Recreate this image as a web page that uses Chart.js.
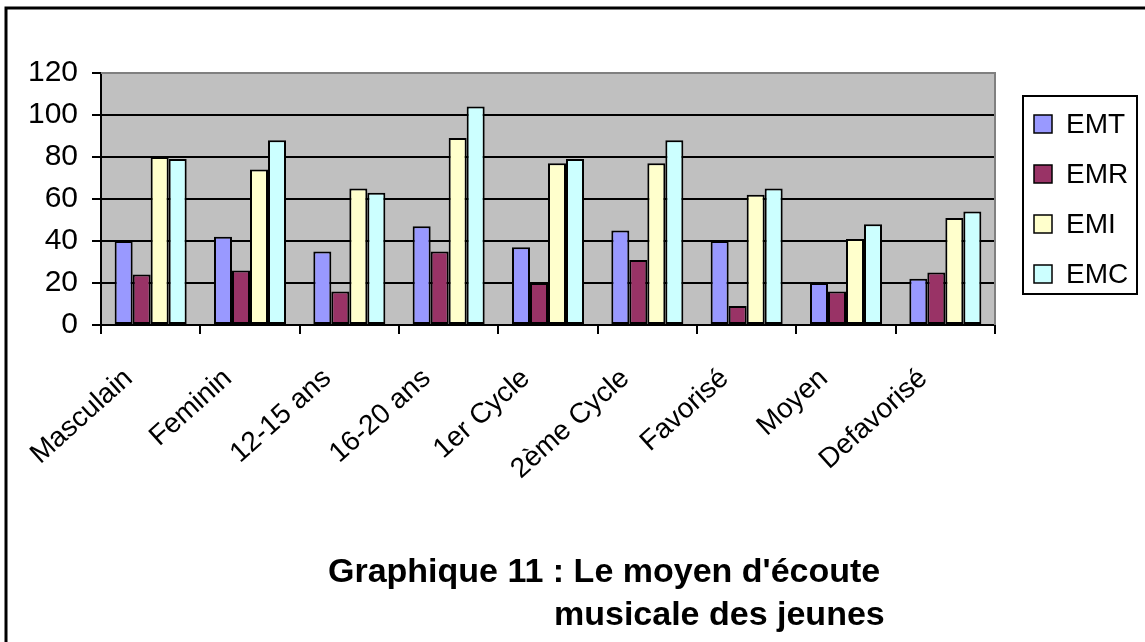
<!DOCTYPE html>
<html>
<head>
<meta charset="utf-8">
<script src="https://cdn.jsdelivr.net/npm/chart.js@4/dist/chart.umd.min.js"></script>
<style>
  body { margin: 0; background: #fff; }
  #wrap { width: 1145px; height: 642px; position: relative; }
</style>
</head>
<body>
<div id="wrap"><canvas id="myChart" width="1145" height="642"></canvas></div>
<script>
// categories and series
const categories = ['Masculain', 'Feminin', '12-15 ans', '16-20 ans', '1er Cycle', '2ème Cycle', 'Favorisé', 'Moyen', 'Defavorisé'];
const emt = [40, 42, 35, 47, 37, 45, 40, 20, 22];
const emr = [24, 26, 16, 35, 20, 31, 9, 16, 25];
const emi = [80, 74, 65, 89, 77, 77, 62, 41, 51];
const emc = [79, 88, 63, 104, 79, 88, 65, 48, 54];
const seriesNames = ['EMT', 'EMR', 'EMI', 'EMC'];
const seriesColors = ['#9999FF', '#993366', '#FFFFCC', '#CCFFFF'];
const yTicks = [0, 20, 40, 60, 80, 100, 120];
const titleLines = ["Graphique 11 : Le moyen d'écoute", 'musicale des jeunes'];

const FONT = "'Liberation Sans', Arial, sans-serif";

// grey plot background + top/right border
const plotBack = {
  id: 'plotBack',
  beforeDraw(chart) {
    const { ctx, chartArea: a } = chart;
    ctx.save();
    ctx.fillStyle = '#fff';
    ctx.fillRect(0, 0, chart.width, chart.height);
    ctx.fillStyle = '#C0C0C0';
    ctx.fillRect(a.left, a.top, a.right - a.left, a.bottom - a.top);
    ctx.restore();
  },
  afterDraw(chart) {
    const { ctx, chartArea: a } = chart;
    ctx.save();
    ctx.strokeStyle = '#808080';
    ctx.lineWidth = 2;
    ctx.beginPath();
    ctx.moveTo(a.left, a.top);
    ctx.lineTo(a.right, a.top);
    ctx.lineTo(a.right, a.bottom);
    ctx.stroke();
    // outer frame (only top and left edges fall inside the picture)
    ctx.strokeStyle = '#000';
    ctx.lineWidth = 3;
    ctx.beginPath();
    ctx.moveTo(6, 650);
    ctx.lineTo(6, 8);
    ctx.lineTo(1150, 8);
    ctx.stroke();
    ctx.restore();
  }
};

// legend box on the right
const boxLegend = {
  id: 'boxLegend',
  afterDraw(chart) {
    const ctx = chart.ctx;
    ctx.save();
    ctx.strokeStyle = '#000';
    ctx.lineWidth = 2;
    ctx.strokeRect(1023, 96, 114, 198);
    ctx.font = '28px ' + FONT;
    ctx.textBaseline = 'middle';
    ctx.textAlign = 'left';
    chart.data.datasets.forEach((ds, i) => {
      const y = 124 + i * 50;
      ctx.fillStyle = ds.backgroundColor;
      ctx.fillRect(1034, y - 9, 18, 18);
      ctx.lineWidth = 1.5;
      ctx.strokeRect(1034, y - 9, 18, 18);
      ctx.fillStyle = '#000';
      ctx.fillText(ds.label, 1066, y + 1);
    });
    ctx.restore();
  }
};

// two-line bold caption under the chart
const caption = {
  id: 'caption',
  afterDraw(chart) {
    const ctx = chart.ctx;
    ctx.save();
    ctx.fillStyle = '#000';
    ctx.font = 'bold 34px ' + FONT;
    ctx.textBaseline = 'alphabetic';
    ctx.textAlign = 'left';
    ctx.fillText(titleLines[0], 328, 582);
    ctx.fillText(titleLines[1], 554, 625);
    ctx.restore();
  }
};

const datasets = [emt, emr, emi, emc].map((vals, i) => ({
  label: seriesNames[i],
  data: vals,
  backgroundColor: seriesColors[i],
  borderColor: '#000',
  borderWidth: 2,
  borderSkipped: false,
  categoryPercentage: 0.725,
  barPercentage: 1
}));

new Chart(document.getElementById('myChart'), {
  type: 'bar',
  data: { labels: categories, datasets: datasets },
  options: {
    responsive: false,
    animation: false,
    layout: { padding: { left: 0, top: 73, right: 150, bottom: 0 } },
    plugins: {
      legend: { display: false },
      tooltip: { enabled: false }
    },
    scales: {
      x: {
        afterFit(scale) { scale.height = 317; },
        grid: { drawOnChartArea: false, offset: true, color: '#000', lineWidth: 2, tickLength: 9 },
        border: { color: '#000', width: 2 },
        ticks: {
          color: '#000',
          font: { family: FONT, size: 28 },
          minRotation: 42,
          maxRotation: 42,
          autoSkip: false,
          padding: 28,
          labelOffset: -22
        }
      },
      y: {
        min: 0,
        max: 120,
        afterFit(scale) { scale.width = 101; },
        afterBuildTicks(scale) { scale.ticks = yTicks.map(v => ({ value: v })); },
        grid: { color: '#000', lineWidth: 2, tickLength: 9 },
        border: { color: '#000', width: 2 },
        ticks: {
          color: '#000',
          font: { family: FONT, size: 30 },
          padding: 14
        }
      }
    }
  },
  plugins: [plotBack, boxLegend, caption]
});
</script>
</body>
</html>
